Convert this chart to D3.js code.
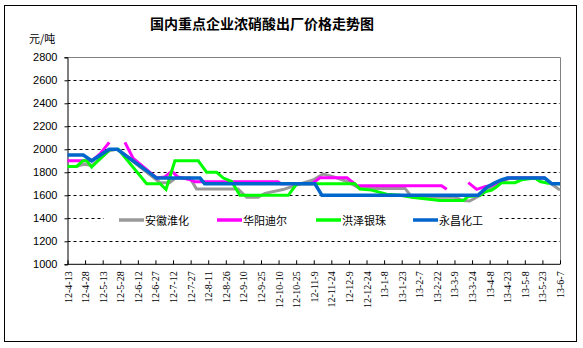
<!DOCTYPE html>
<html><head><meta charset="utf-8">
<script src="https://cdn.jsdelivr.net/npm/d3@7/dist/d3.min.js"></script>
<style>body{margin:0;background:#fff}svg{display:block}</style>
</head><body>
<svg id="c" width="583" height="348"></svg>
<script>
// x positions are day offsets from 12-4-13 (15 days between labels)
const tickLabels = ["12-4-13","12-4-28","12-5-13","12-5-28","12-6-12","12-6-27","12-7-12","12-7-27","12-8-11","12-8-26","12-9-10","12-9-25","12-10-10","12-10-25","12-11-9","12-11-24","12-12-9","12-12-24","13-1-8","13-1-23","13-2-7","13-2-22","13-3-9","13-3-24","13-4-8","13-4-23","13-5-8","13-5-23","13-6-7"];
const yTicks = [1000,1200,1400,1600,1800,2000,2200,2400,2600,2800];
const seriesNames = ["安徽淮化","华阳迪尔","洪泽银珠","永昌化工"];
const seriesColors = ["#999999","#FF00FF","#00FF00","#0066CC"];
const anhui = [[0,1850],[7,1850],[14,1870],[21,1860],[36,1990],[42.5,2000],[79,1710],[87,1710],[92,1750],[104.5,1750],[110,1655],[145.4,1655],[152.8,1583],[162.5,1583],[168.4,1617],[183.8,1650],[195.7,1690],[209.4,1733],[217.9,1785],[226.4,1762],[238.4,1720],[249.5,1660],[287.8,1660],[293.8,1583],[330.5,1583],[337,1555],[343,1550],[352,1600],[364.6,1690],[377.4,1750],[407,1750],[414,1690],[420,1645]];
const huayang = [[0,1900],[20.6,1900],[27.7,1960],[35.6,2060],[40,null],[49,2060],[56,1920],[76.3,1750],[83,1760],[89,1810],[94,1760],[103,1740],[108.7,1718],[179.5,1718],[182,1700],[208.5,1700],[215.3,1753],[238.3,1753],[246.9,1683],[319,1683],[323.4,1652],[330,null],[341.8,1710],[349,1652],[356,1675],[362.9,1690],[369,1720],[375.7,1750],[407,1750]];
const hongze = [[0,1850],[7.8,1850],[13,1900],[16.4,1900],[20.6,1845],[35.6,1995],[43.3,2000],[67.5,1700],[79,1700],[84,1650],[91.6,1900],[111.5,1900],[118.7,1800],[127.2,1800],[132.9,1750],[140,1720],[147,1600],[188.3,1600],[195.5,1700],[245,1700],[249.4,1655],[259.4,1645],[272.2,1610],[283.6,1600],[295,1580],[317.7,1555],[337.5,1555],[341.8,1590],[351.8,1600],[356,1630],[361.8,1645],[366,1675],[370.3,1710],[381.6,1710],[387.3,1735],[398.7,1750],[403,1720],[410,1705],[420,1700]];
const yongchang = [[0,1950],[13.5,1950],[20.6,1900],[35.6,2000],[42.5,2000],[76,1750],[113,1750],[117,1700],[211,1700],[217,1600],[350,1600],[358,1672],[364,1707],[370,1733],[375,1750],[407,1750],[413,1700],[420,1700]];
const allSeries = [anhui, huayang, hongze, yongchang];

const svg = d3.select("#c");
const L = 67.5, R = 560, T = 57.3, B = 264.3;
const x = d3.scaleLinear().domain([0, 420]).range([L, R]);
const y = d3.scaleLinear().domain([1000, 2800]).range([B, T]);

// outer border
svg.append("rect").attr("x",4.5).attr("y",5.5).attr("width",572).attr("height",336).attr("fill","#fff").attr("stroke","#000").attr("stroke-width",1);

// title
svg.append("text").attr("x",262).attr("y",29).attr("text-anchor","middle")
  .attr("font-family","'Noto Sans CJK SC'").attr("font-weight","bold").attr("font-size",14).text("国内重点企业浓硝酸出厂价格走势图");
svg.append("text").attr("x",29).attr("y",43).attr("font-family","'Noto Sans CJK SC'").attr("font-size",11).text("元/吨");

// gridlines
svg.append("g").selectAll("line").data(yTicks.filter(v => v > 1000 && v < 2800)).join("line")
  .attr("x1",L).attr("x2",R).attr("y1",d=>Math.round(y(d))+0.5).attr("y2",d=>Math.round(y(d))+0.5)
  .attr("stroke","#000").attr("stroke-dasharray","3,3").attr("stroke-width",1);

// plot border top/right
svg.append("line").attr("x1",L).attr("x2",R).attr("y1",Math.round(T)+0.5).attr("y2",Math.round(T)+0.5).attr("stroke","#808080");
svg.append("line").attr("x1",R+0.5).attr("x2",R+0.5).attr("y1",T).attr("y2",B).attr("stroke","#808080");

// y axis
const yAxis = d3.axisLeft(y).tickValues(yTicks).tickSize(3).tickPadding(7).tickFormat(d3.format("d"));
const gy = svg.append("g").attr("transform",`translate(${L},0)`).call(yAxis);
gy.selectAll("text").attr("font-family","'Liberation Sans', Arial").attr("font-size",11).attr("fill","#000");
gy.select(".domain").attr("stroke","#000");

// x axis
const tickDays = tickLabels.map((d,i) => i*15);
const xAxis = d3.axisBottom(x).tickValues(tickDays).tickSize(-4).tickFormat((d,i)=>tickLabels[i]);
const gx = svg.append("g").attr("transform",`translate(0,${B})`).call(xAxis);
gx.select(".domain").attr("stroke","#000").attr("d",`M${L},0H${R}`);
gx.selectAll(".tick text").attr("font-family","'Liberation Serif','DejaVu Serif',serif").attr("font-size",10).attr("fill","#000")
  .attr("text-anchor","end").attr("transform","translate(0,7) rotate(-90)").attr("x",0).attr("y",0).attr("dy","0.35em");

// lines
const line = d3.line().defined(d => d[1] !== null).x(d => x(d[0])).y(d => y(d[1]));
svg.append("g").selectAll("path").data(allSeries).join("path")
  .attr("d", line).attr("fill","none")
  .attr("stroke",(d,i)=>seriesColors[i]).attr("stroke-width",(d,i)=> i===3 ? 3.5 : 3)
  .attr("stroke-linejoin","miter");

// legend
const lg = svg.append("g");
lg.append("rect").attr("x",104).attr("y",211).attr("width",394).attr("height",18).attr("fill","#fff");
const legX = [119, 217, 316, 413];
seriesNames.forEach((n,i)=>{
  lg.append("line").attr("x1",legX[i]).attr("x2",legX[i]+25).attr("y1",220).attr("y2",220)
    .attr("stroke",seriesColors[i]).attr("stroke-width",3.5);
  lg.append("text").attr("x",legX[i]+26).attr("y",224.5).attr("font-family","'Noto Sans CJK SC'").attr("font-size",11).text(n);
});
</script>
</body></html>
